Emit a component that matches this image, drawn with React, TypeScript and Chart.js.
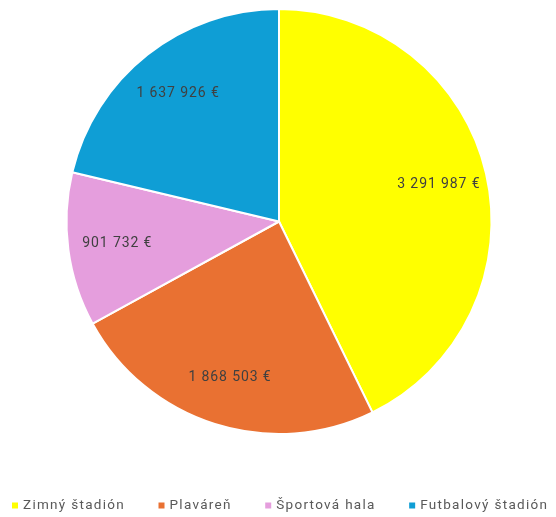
import React, { useEffect, useRef } from "react";
import { Chart, registerables } from "chart.js";

Chart.register(...registerables);

const categories = ["Zimný štadión", "Plaváreň", "Športová hala", "Futbalový štadión"];
const values = [3291987, 1868503, 901732, 1637926];
const colors = ["#FFFF00", "#E97132", "#E59EDD", "#0F9ED5"];

function fmt(v: number): string {
  return String(v).replace(/\B(?=(\d{3})+(?!\d))/g, " ") + " €";
}

const FONT = "Roboto, 'DejaVu Sans', sans-serif";

const labelPlugin = {
  id: "sliceLabels",
  afterDatasetsDraw(chart: any) {
    const ctx = chart.ctx;
    const meta = chart.getDatasetMeta(0);
    ctx.save();
    ctx.font = `14px ${FONT}`;
    (ctx as any).letterSpacing = "0.9px";
    ctx.fillStyle = "#404040";
    ctx.textAlign = "left";
    ctx.textBaseline = "middle";
    meta.data.forEach((arc: any, i: number) => {
      const { x, y, startAngle, endAngle, outerRadius } = arc.getProps(
        ["x", "y", "startAngle", "endAngle", "outerRadius"],
        true
      );
      const mid = (startAngle + endAngle) / 2;
      const r = outerRadius * 0.77;
      const txt = fmt(values[i]);
      const w = ctx.measureText(txt).width - 0.9;
      ctx.fillText(txt, x + Math.cos(mid) * r - w / 2, y + Math.sin(mid) * r);
    });
    ctx.restore();
  },
};

const legendPlugin = {
  id: "bottomLegend",
  afterDraw(chart: any) {
    const ctx = chart.ctx;
    const box = 6;
    const gapBoxText = 5;
    const left = 4;
    const right = chart.width - 1;
    const yMid = chart.height - 11;
    ctx.save();
    ctx.font = `13.5px ${FONT}`;
    (ctx as any).letterSpacing = "1.3px";
    ctx.textBaseline = "middle";
    ctx.textAlign = "left";
    const widths = categories.map((c) => ctx.measureText(c).width - 1.3);
    const sum = widths.reduce((a, b) => a + b, 0);
    const gap = (right - left - sum - categories.length * (box + gapBoxText)) / (categories.length - 1);
    let x = left;
    categories.forEach((c, i) => {
      ctx.fillStyle = colors[i];
      ctx.fillRect(x, yMid - box / 2 - 0.5, box, box);
      x += box + gapBoxText;
      ctx.fillStyle = "#595959";
      ctx.fillText(c, x, yMid);
      x += widths[i] + gap;
    });
    ctx.restore();
  },
};

export default function App() {
  const ref = useRef<HTMLCanvasElement | null>(null);
  useEffect(() => {
    if (!ref.current) return;
    const chart = new Chart(ref.current, {
      type: "pie",
      data: {
        labels: categories,
        datasets: [
          {
            data: values,
            backgroundColor: colors,
            borderColor: "#FFFFFF",
            borderWidth: 2,
          },
        ],
      },
      options: {
        animation: false,
        responsive: true,
        maintainAspectRatio: false,
        layout: { padding: { left: 2, right: 0, top: 0, bottom: 82 } },
        plugins: {
          tooltip: { enabled: false },
          legend: { display: false },
        },
      },
      plugins: [labelPlugin, legendPlugin],
    });
    return () => chart.destroy();
  }, []);
  return (
    <div style={{ width: 540, height: 509, position: "relative" }}>
      <canvas ref={ref} />
    </div>
  );
}
